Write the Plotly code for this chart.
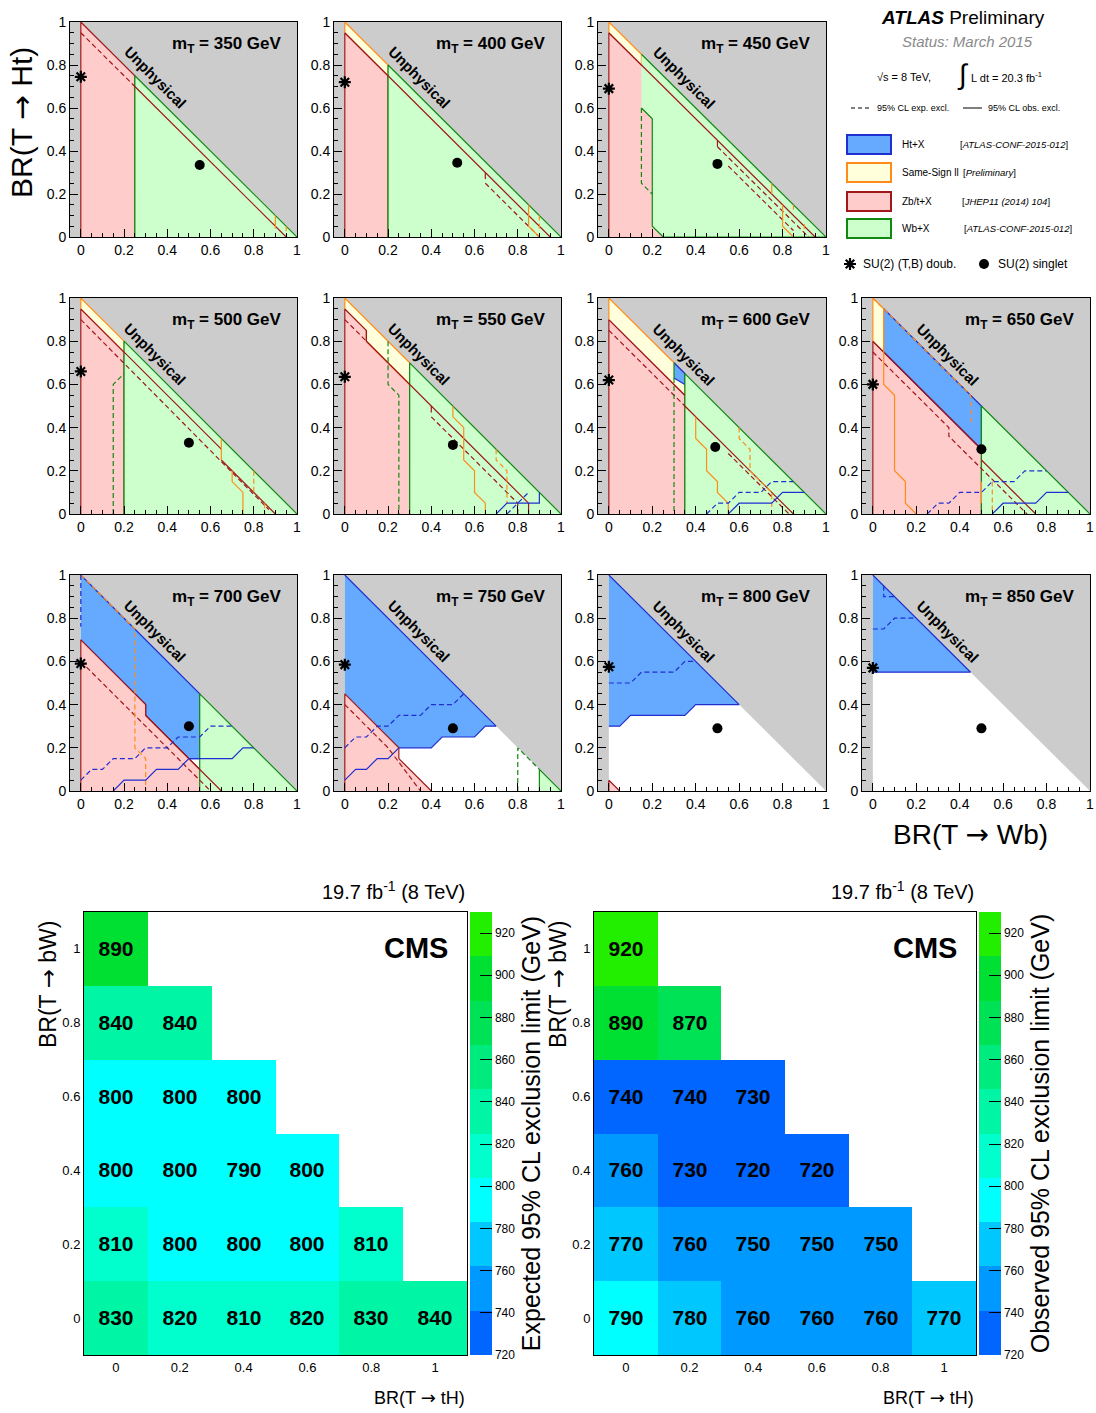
import plotly.graph_objects as go

W, H = 1096, 1413
SANS = "Liberation Sans, Arial, Helvetica, sans-serif"
ARROW = '<span style="font-family:DejaVu Sans">\u2192</span>'

# ---------------- ATLAS panels data ----------------
MASSES = [350, 400, 450, 500, 550, 600, 650, 700, 750, 800, 850]
DOUBLET_Y = [0.745, 0.72, 0.69, 0.66, 0.635, 0.62, 0.60, 0.59, 0.585, 0.575, 0.57]
SINGLET_X = [0.55, 0.52, 0.50, 0.50, 0.50, 0.49, 0.50, 0.50, 0.50, 0.50, 0.50]
SINGLET_Y = [0.335, 0.345, 0.34, 0.33, 0.32, 0.31, 0.30, 0.30, 0.29, 0.29, 0.29]

# fills: (analysis, x vertices, y vertices) ; lines: (analysis, style, x, y)
FILLS_350 = [("zb", [0, 0, 0.25, 0.25], [0, 1, 0.75, 0]),
             ("wb", [0.25, 0.25, 1], [0, 0.75, 0])]
LINES_350 = [("zb", "solid", [0.25, 0.95], [0.70, 0]),
             ("zb", "dash", [0, 0.25], [0.95, 0.70]),
             ("ss", "solid", [0.9, 0.9], [0.1, 0.04]),
             ("ss", "dash", [0.95, 0.95], [0.05, 0.01])]

FILLS_400 = [("zb", [0, 0, 0.2, 0.2], [0, 0.95, 0.75, 0]),
             ("ss", [0, 0, 0.2, 0.2], [0.95, 1, 0.8, 0.75]),
             ("wb", [0.2, 0.2, 1], [0, 0.8, 0])]
LINES_400 = [("zb", "solid", [0, 0.65, 0.65], [0.95, 0.30, 0.27]),
             ("zb", "solid", [0.65, 0.95], [0.30, 0]),
             ("zb", "dash", [0.65, 0.9], [0.25, 0]),
             ("ss", "solid", [0.85, 0.85, 0.9], [0.15, 0.05, 0]),
             ("ss", "dash", [0.9, 0.9], [0.1, 0.03])]

FILLS_450 = [("zb", [0, 0, 0.25, 0.25], [0, 0.95, 0.70, 0]),
             ("ss", [0, 0, 0.15, 0.15], [0.95, 1, 0.85, 0.80]),
             ("wb", [0.15, 1, 0.25, 0.2, 0.2, 0.15], [0.85, 0, 0, 0.05, 0.55, 0.6])]
LINES_450 = [("zb", "solid", [0, 0.5, 0.95], [0.95, 0.45, 0]),
             ("zb", "solid", [0.5, 0.5], [0.45, 0.42]),
             ("zb", "dash", [0.5, 0.92], [0.42, 0]),
             ("zb", "dash", [0.55, 0.85], [0.33, 0.03]),
             ("wb", "dash", [0.15, 0.15, 0.2], [0.6, 0.25, 0.2]),
             ("ss", "solid", [0.75, 0.75], [0.25, 0.2]),
             ("ss", "solid", [0.8, 0.8, 0.85], [0.15, 0.05, 0]),
             ("ss", "dash", [0.85, 0.85], [0.15, 0.12]),
             ("ss", "dash", [0.9, 0.9], [0.06, 0.03])]

FILLS_500 = [("zb", [0, 0, 0.2, 0.2], [0, 0.95, 0.75, 0]),
             ("ss", [0, 0, 0.2, 0.2], [0.95, 1, 0.8, 0.75]),
             ("wb", [0.2, 0.2, 1], [0, 0.8, 0])]
LINES_500 = [("zb", "solid", [0, 0.65], [0.95, 0.30]),
             ("zb", "solid", [0.65, 0.9], [0.25, 0]),
             ("zb", "dash", [0, 0.87], [0.9, 0.02]),
             ("wb", "dash", [0.15, 0.15, 0.2], [0, 0.6, 0.65]),
             ("ss", "solid", [0.65, 0.65], [0.35, 0.25]),
             ("ss", "solid", [0.7, 0.7, 0.75, 0.75], [0.2, 0.15, 0.1, 0]),
             ("ss", "dash", [0.8, 0.8], [0.2, 0.1]),
             ("ss", "dash", [0.85, 0.85], [0.05, 0])]

FILLS_550 = [("zb", [0, 0, 0.1, 0.1, 0.3, 0.3], [0, 0.95, 0.85, 0.8, 0.6, 0]),
             ("ss", [0, 0, 0.3, 0.3, 0.1, 0.1], [0.95, 1, 0.7, 0.6, 0.8, 0.85]),
             ("wb", [0.3, 0.3, 1], [0, 0.7, 0])]
LINES_550 = [("zb", "solid", [0, 0.1, 0.1, 0.4, 0.85, 0.85], [0.95, 0.85, 0.8, 0.5, 0.05, 0]),
             ("zb", "solid", [0.4, 0.4], [0.5, 0.47]),
             ("zb", "dash", [0, 0.1], [0.9, 0.8]),
             ("zb", "dash", [0.4, 0.8, 0.8], [0.45, 0.05, 0]),
             ("wb", "dash", [0.2, 0.2, 0.25, 0.25], [0.8, 0.6, 0.55, 0]),
             ("ss", "solid", [0.5, 0.5, 0.55, 0.55, 0.6, 0.6, 0.65, 0.65],
              [0.5, 0.45, 0.4, 0.25, 0.2, 0.1, 0.05, 0]),
             ("ss", "dash", [0.7, 0.7, 0.75, 0.75], [0.3, 0.25, 0.2, 0.05]),
             ("ht", "solid", [0.7, 0.75, 0.9, 0.9], [0, 0.05, 0.05, 0.1]),
             ("ht", "dash", [0.75, 0.8, 0.85], [0, 0.05, 0.1])]

FILLS_600 = [("zb", [0, 0, 0.35, 0.35], [0, 0.9, 0.55, 0]),
             ("ss", [0, 0, 0.35, 0.35], [0.9, 1, 0.65, 0.55]),
             ("ht", [0.3, 0.35, 0.35, 0.3], [0.7, 0.65, 0.6, 0.63]),
             ("wb", [0.35, 0.35, 1], [0, 0.65, 0])]
LINES_600 = [("zb", "solid", [0, 0.35], [0.9, 0.55]),
             ("zb", "solid", [0.35, 0.85], [0.5, 0]),
             ("zb", "dash", [0, 0.35], [0.85, 0.5]),
             ("zb", "dash", [0.55, 0.83], [0.28, 0]),
             ("wb", "solid", [0.3, 0.3], [0.7, 0.63]),
             ("wb", "dash", [0.3, 0.3], [0.63, 0]),
             ("ss", "solid", [0.4, 0.4, 0.45, 0.45, 0.5, 0.5, 0.55, 0.55],
              [0.45, 0.35, 0.3, 0.2, 0.15, 0.1, 0.05, 0]),
             ("ss", "dash", [0.6, 0.6, 0.65, 0.65, 0.7, 0.75, 0.75],
              [0.4, 0.35, 0.3, 0.2, 0.15, 0.1, 0.03]),
             ("ht", "solid", [0.55, 0.6, 0.75, 0.8, 0.9], [0, 0.05, 0.05, 0.1, 0.1]),
             ("ht", "dash", [0.45, 0.5, 0.55, 0.6, 0.7, 0.75, 0.85],
              [0, 0.05, 0.05, 0.1, 0.1, 0.15, 0.15])]

FILLS_650 = [("zb", [0, 0, 0.5, 0.5], [0, 0.8, 0.3, 0]),
             ("ss", [0, 0, 0.05, 0.05], [0.8, 1, 0.95, 0.75]),
             ("ht", [0.05, 0.5, 0.5, 0.05], [0.95, 0.5, 0.3, 0.75]),
             ("wb", [0.5, 0.5, 1], [0, 0.5, 0])]
LINES_650 = [("zb", "solid", [0, 0.5], [0.8, 0.3]),
             ("zb", "solid", [0.5, 0.75], [0.25, 0]),
             ("zb", "dash", [0, 0.35, 0.35, 0.71], [0.75, 0.4, 0.36, 0]),
             ("ss", "solid", [0.05, 0.05, 0.1, 0.1, 0.15, 0.15, 0.2],
              [0.95, 0.6, 0.55, 0.2, 0.15, 0.05, 0]),
             ("ss", "dash", [0, 0.45, 0.45], [1, 0.55, 0.42]),
             ("ss", "solid", [0.5, 0.5], [0.15, 0.05]),
             ("ss", "dash", [0.55, 0.55], [0.15, 0]),
             ("ht", "solid", [0.55, 0.6, 0.75, 0.8, 0.9], [0, 0.05, 0.05, 0.1, 0.1]),
             ("ht", "dash", [0.25, 0.3, 0.35, 0.4, 0.5, 0.55, 0.65, 0.7, 0.8],
              [0, 0.05, 0.05, 0.1, 0.1, 0.15, 0.15, 0.2, 0.2])]

FILLS_700 = [("ht", [0, 0.55, 0.55, 0.5, 0.3, 0.3, 0], [1, 0.45, 0.15, 0.15, 0.35, 0.4, 0.7]),
             ("zb", [0, 0, 0.3, 0.3, 0.65], [0, 0.7, 0.4, 0.35, 0]),
             ("wb", [0.55, 0.55, 1], [0, 0.45, 0])]
LINES_700 = [("zb", "solid", [0.3, 0.65], [0.35, 0]),
             ("zb", "dash", [0, 0.6], [0.6, 0]),
             ("ss", "dash", [0, 0.25, 0.25, 0.3, 0.3], [1, 0.75, 0.2, 0.15, 0]),
             ("ht", "dash", [0, 0], [1, 0.76]),
             ("ht", "dash", [0, 0.05, 0.1, 0.15, 0.25, 0.3, 0.4, 0.45, 0.55, 0.6, 0.7],
              [0.05, 0.1, 0.1, 0.15, 0.15, 0.2, 0.2, 0.25, 0.25, 0.3, 0.3]),
             ("ht", "solid", [0.15, 0.2, 0.3, 0.35, 0.45, 0.5, 0.7, 0.75, 0.8],
              [0, 0.05, 0.05, 0.1, 0.1, 0.15, 0.15, 0.2, 0.2])]

FILLS_750 = [("ht", [0, 0.7, 0.65, 0.6, 0.45, 0.4, 0.25, 0.2, 0.15, 0.1, 0.05, 0],
              [1, 0.3, 0.3, 0.25, 0.25, 0.2, 0.2, 0.15, 0.15, 0.1, 0.1, 0.05]),
             ("zb", [0, 0, 0.25, 0.25, 0.4], [0, 0.45, 0.2, 0.15, 0]),
             ("wb", [0.9, 0.9, 1], [0, 0.1, 0])]
LINES_750 = [("ht", "solid", [0, 0.05, 0.1, 0.15, 0.2, 0.25], [0.05, 0.1, 0.1, 0.15, 0.15, 0.2]),
             ("zb", "dash", [0, 0.2, 0.35], [0.4, 0.2, 0]),
             ("ht", "dash", [0, 0.05, 0.1, 0.15, 0.2, 0.25, 0.35, 0.4, 0.5, 0.55],
              [0.2, 0.25, 0.25, 0.3, 0.3, 0.35, 0.35, 0.4, 0.4, 0.45]),
             ("wb", "dash", [0.8, 0.8, 0.9], [0, 0.2, 0.1])]

FILLS_800 = [("ht", [0, 0.6, 0.4, 0.35, 0.1, 0.05, 0], [1, 0.4, 0.4, 0.35, 0.35, 0.3, 0.3]),
             ("zb", [0, 0, 0.05], [0, 0.05, 0])]
LINES_800 = [("ht", "dash", [0, 0.1, 0.15, 0.3, 0.35, 0.4], [0.5, 0.5, 0.55, 0.55, 0.6, 0.6])]

FILLS_850 = [("ht", [0, 0.45, 0], [1, 0.55, 0.55])]
LINES_850 = [("ht", "dash", [0, 0.05, 0.1, 0.2], [0.75, 0.75, 0.8, 0.8]),
             ("ht", "dash", [0.05, 0.05, 0.1], [0.95, 0.9, 0.9])]

PANEL_FILLS = [FILLS_350, FILLS_400, FILLS_450, FILLS_500, FILLS_550, FILLS_600,
               FILLS_650, FILLS_700, FILLS_750, FILLS_800, FILLS_850]
PANEL_LINES = [LINES_350, LINES_400, LINES_450, LINES_500, LINES_550, LINES_600,
               LINES_650, LINES_700, LINES_750, LINES_800, LINES_850]

# ---------------- CMS heat-map data ----------------
BR_TH = [0, 0.2, 0.4, 0.6, 0.8, 1.0]
BR_BW = [0, 0.2, 0.4, 0.6, 0.8, 1.0]
EXPECTED = [
    [830, 820, 810, 820, 830, 840],
    [810, 800, 800, 800, 810, None],
    [800, 800, 790, 800, None, None],
    [800, 800, 800, None, None, None],
    [840, 840, None, None, None, None],
    [890, None, None, None, None, None],
]
OBSERVED = [
    [790, 780, 760, 760, 760, 770],
    [770, 760, 750, 750, 750, None],
    [760, 730, 720, 720, None, None],
    [740, 740, 730, None, None, None],
    [890, 870, None, None, None, None],
    [920, None, None, None, None, None],
]
CB_TICKS = [720, 740, 760, 780, 800, 820, 840, 860, 880, 900, 920]

# ---------------- styles ----------------
GRAY = "#cccccc"
FILL_COL = {"ht": "#66aaff", "ss": "#ffffdc", "zb": "#ffcccc", "wb": "#ccffcc"}
LINE_COL = {"ht": "#1f2fd0", "ss": "#ff8c1a", "zb": "#a01818", "wb": "#118811"}
DASH = {"solid": "solid", "dash": "5px,3px"}
BAND_COLORS = ["#0066ff", "#0099ff", "#00c8ff", "#00ffff", "#00ffcc",
               "#00f5a5", "#00eb7d", "#00e255", "#00e032", "#22ee00"]


def fx(p):
    return p / W


def fy(p):
    return 1 - p / H


def names(n):
    s = "" if n == 1 else str(n)
    return "x" + s, "y" + s, "xaxis" + s, "yaxis" + s


fig = go.Figure()
layout = {}
annotations = []
shapes = []

COLS = [(70, 297), (334, 561), (598, 826), (862, 1090)]
ROWS = [(22, 237), (298, 514), (575, 791)]
CELLS = [(0, 0), (0, 1), (0, 2), (1, 0), (1, 1), (1, 2), (1, 3), (2, 0), (2, 1), (2, 2), (2, 3)]

axis_common = dict(showgrid=False, zeroline=False, showline=True, linecolor="black",
                   linewidth=1, mirror=True, ticks="inside", ticklen=8, tickcolor="black",
                   tickmode="linear", tick0=0, dtick=0.2, automargin=False,
                   minor=dict(ticks="inside", ticklen=4, tickcolor="black", tick0=0, dtick=0.05),
                   tickfont=dict(family=SANS, size=14, color="black"), fixedrange=True)

for i, mass in enumerate(MASSES):
    n = i + 1
    xa, ya, xk, yk = names(n)
    r, c = CELLS[i]
    x0, x1 = COLS[c]
    y0, y1 = ROWS[r]
    layout[xk] = dict(axis_common, domain=[fx(x0), fx(x1)], range=[-0.05, 1.0], anchor=ya)
    layout[yk] = dict(axis_common, domain=[fy(y1), fy(y0)], range=[0, 1.0], anchor=xa)

    def poly(xs, ys, fillc, linec, lw):
        fig.add_trace(go.Scatter(x=xs, y=ys, mode="lines", fill="toself", fillcolor=fillc,
                                 line=dict(color=linec, width=lw), xaxis=xa, yaxis=ya,
                                 hoverinfo="skip", showlegend=False))

    poly([-0.05, 1, 1, -0.05], [0, 0, 1, 1], GRAY, GRAY, 0)
    poly([0, 0, 1], [0, 1, 0], "white", "white", 0)
    for kind, xs, ys in PANEL_FILLS[i]:
        poly(xs, ys, FILL_COL[kind], LINE_COL[kind], 1.2)
    for kind, style, xs, ys in PANEL_LINES[i]:
        fig.add_trace(go.Scatter(x=xs, y=ys, mode="lines",
                                 line=dict(color=LINE_COL[kind], width=1.2, dash=DASH[style]),
                                 xaxis=xa, yaxis=ya, hoverinfo="skip", showlegend=False))
    fig.add_trace(go.Scatter(x=[0], y=[DOUBLET_Y[i]], mode="markers",
                             marker=dict(symbol="asterisk-open", size=10, color="black",
                                         line=dict(color="black", width=2.2)),
                             xaxis=xa, yaxis=ya, hoverinfo="skip", showlegend=False))
    fig.add_trace(go.Scatter(x=[SINGLET_X[i]], y=[SINGLET_Y[i]], mode="markers",
                             marker=dict(symbol="circle", size=10, color="black"),
                             xaxis=xa, yaxis=ya, hoverinfo="skip", showlegend=False))
    annotations.append(dict(x=0.94, y=0.895, xref=xa, yref=ya, xanchor="right", yanchor="middle",
                            text="<b>m<sub>T</sub> = %d GeV</b>" % mass, showarrow=False,
                            font=dict(family=SANS, size=17, color="black")))
    annotations.append(dict(x=0.345, y=0.74, xref=xa, yref=ya, xanchor="center", yanchor="middle",
                            text="<b>Unphysical</b>", textangle=45, showarrow=False,
                            font=dict(family=SANS, size=15, color="black")))


def txt(x, y, s, size, anchor="left", color="black", angle=0):
    annotations.append(dict(x=fx(x), y=fy(y), xref="paper", yref="paper", text=s,
                            xanchor=anchor, yanchor="middle", showarrow=False, textangle=angle,
                            font=dict(family=SANS, size=size, color=color)))


# ATLAS axis titles
txt(22, 123, "BR(T " + ARROW + " Ht)", 30, "center", angle=-90)
txt(970, 834, "BR(T " + ARROW + " Wb)", 28, "center")

# ---------------- ATLAS legend ----------------
txt(963, 17, "<b><i>ATLAS</i></b> Preliminary", 19, "center")
txt(967, 42, "<i>Status: March 2015</i>", 15, "center", color="#8a8a8a")
txt(904, 77, "\u221as = 8 TeV,", 11, "center")
txt(963, 74, "\u222b", 28, "center")
txt(969, 77, "L dt = 20.3 fb<sup>-1</sup>", 11, "left")
txt(875, 108, "95% CL exp. excl.", 9, "left")
txt(986, 108, "95% CL obs. excl.", 9, "left")
shapes.append(dict(type="line", xref="paper", yref="paper", x0=fx(851), x1=fx(872), y0=fy(108),
                   y1=fy(108), line=dict(color="black", width=1, dash="4px,3px")))
shapes.append(dict(type="line", xref="paper", yref="paper", x0=fx(963), x1=fx(982), y0=fy(108),
                   y1=fy(108), line=dict(color="black", width=1)))
LEG = [("ht", "Ht+X", "[<i>ATLAS-CONF-2015-012</i>]", 135, 154, 958),
       ("ss", "Same-Sign ll", "[<i>Preliminary</i>]", 163, 182, 961),
       ("zb", "Zb/t+X", "[<i>JHEP11 (2014) 104</i>]", 192, 211, 960),
       ("wb", "Wb+X", "[<i>ATLAS-CONF-2015-012</i>]", 219, 238, 962)]
for kind, lab, ref, ya0, ya1, rx in LEG:
    shapes.append(dict(type="rect", xref="paper", yref="paper", x0=fx(847), x1=fx(891),
                       y0=fy(ya1), y1=fy(ya0), fillcolor=FILL_COL[kind],
                       line=dict(color=LINE_COL[kind], width=2)))
    txt(900, (ya0 + ya1) / 2, lab, 10, "left")
    txt(rx, (ya0 + ya1) / 2, ref, 9.5, "left")
txt(861, 264, "SU(2) (T,B) doub.", 12, "left")
txt(996, 264, "SU(2) singlet", 12, "left")

# overlay axis (pixel coordinates) for the legend markers
layout["xaxis14"] = dict(domain=[0, 1], range=[0, W], visible=False, anchor="y14", fixedrange=True)
layout["yaxis14"] = dict(domain=[0, 1], range=[H, 0], visible=False, anchor="x14", fixedrange=True)
fig.add_trace(go.Scatter(x=[850], y=[264], mode="markers", xaxis="x14", yaxis="y14",
                         marker=dict(symbol="asterisk-open", size=10, color="black",
                                     line=dict(color="black", width=2.2)),
                         hoverinfo="skip", showlegend=False))
fig.add_trace(go.Scatter(x=[984], y=[264], mode="markers", xaxis="x14", yaxis="y14",
                         marker=dict(symbol="circle", size=10, color="black"),
                         hoverinfo="skip", showlegend=False))

# ---------------- CMS heat maps ----------------
cs = []
for k, col in enumerate(BAND_COLORS):
    cs.append([k / len(BAND_COLORS), col])
    cs.append([(k + 1) / len(BAND_COLORS), col])

HM = [(12, 84, 467, EXPECTED, "coloraxis", "Expected 95% CL exclusion limit (GeV)"),
      (13, 594, 976, OBSERVED, "coloraxis2", "Observed 95% CL exclusion limit (GeV)")]
for n, hx0, hx1, zz, cax, cbt in HM:
    xa, ya, xk, yk = names(n)
    hax = dict(showgrid=False, zeroline=False, showline=True, linecolor="black", linewidth=1,
               mirror=True, ticks="", range=[-0.1, 1.1], tickvals=BR_TH, automargin=False,
               ticktext=["0", "0.2", "0.4", "0.6", "0.8", "1"],
               tickfont=dict(family=SANS, size=13, color="black"), fixedrange=True)
    layout[xk] = dict(hax, domain=[fx(hx0), fx(hx1)], anchor=ya)
    layout[yk] = dict(hax, domain=[fy(1355), fy(912)], anchor=xa)
    fig.add_trace(go.Heatmap(x=BR_TH, y=BR_BW, z=zz, coloraxis=cax, xaxis=xa, yaxis=ya,
                             texttemplate="%{z}", hoverinfo="skip",
                             textfont=dict(family=SANS, size=21, color="black", weight="bold")))
    layout[cax] = dict(colorscale=cs, cmin=720, cmax=930,
                       colorbar=dict(x=fx(hx1 + 3), xanchor="left", xpad=0, y=fy(912), yanchor="top",
                                     ypad=0, len=443, lenmode="pixels", thickness=22,
                                     thicknessmode="pixels", outlinewidth=0, ticks="inside",
                                     ticklen=12, tickcolor="black", tickvals=CB_TICKS,
                                     tickfont=dict(family=SANS, size=12, color="black"),
                                     title=dict(text=cbt, side="right",
                                                font=dict(family=SANS, size=25, color="black"))))
    txt(hx1, 890, "19.7 fb<sup>-1</sup> (8 TeV)", 20, "right")
    txt(hx1 - 17, 948, "<b>CMS</b>", 29, "right")
    txt(hx0 - 36, 985, "BR(T " + ARROW + " bW)", 23, "center", angle=-90)
    txt(hx1, 1397, "BR(T " + ARROW + " tH)", 18, "right")

fig.update_layout(width=W, height=H, margin=dict(l=0, r=0, t=0, b=0, pad=0, autoexpand=False),
                  paper_bgcolor="white", plot_bgcolor="rgba(0,0,0,0)", showlegend=False,
                  annotations=annotations, shapes=shapes, **layout)
fig.write_html("out.html")
